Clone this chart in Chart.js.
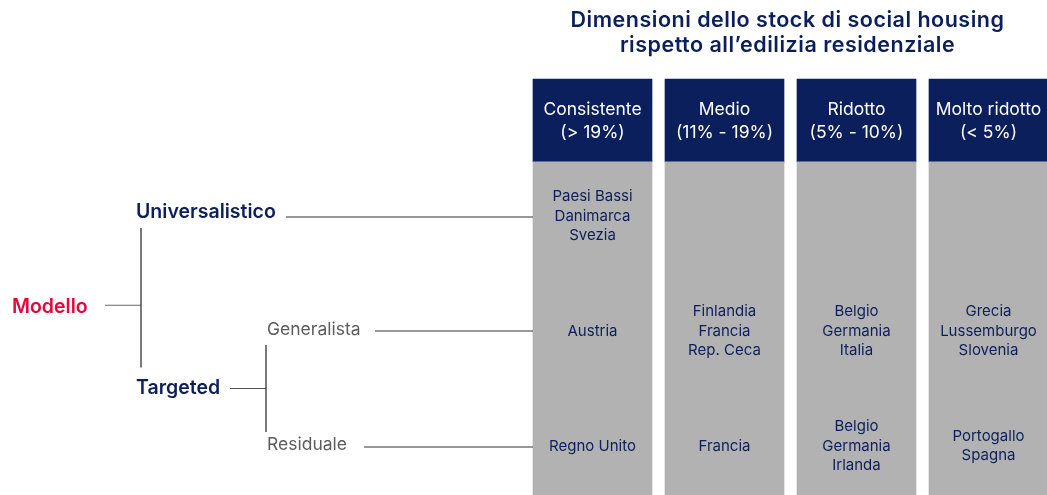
<!DOCTYPE html>
<html><head><meta charset="utf-8">
<script src="https://cdn.jsdelivr.net/npm/chart.js@4.4.1/dist/chart.umd.min.js"></script>
<style>html,body{margin:0;padding:0;background:#fff}#wrap{width:1047px;height:495px;position:relative}</style>
</head><body><div id="wrap"><canvas id="c"></canvas></div>
<script>
// ---- data ----
const titleLines = ['Dimensioni dello stock di social housing', 'rispetto all\u2019edilizia residenziale'];
const columnNames = ['Consistente', 'Medio', 'Ridotto', 'Molto ridotto'];
const columnRanges = ['(> 19%)', '(11% - 19%)', '(5% - 10%)', '(< 5%)'];
const rootLabel = 'Modello';
const modelLabels = ['Universalistico', 'Targeted'];
const targetedLabels = ['Generalista', 'Residuale'];
const universalistico = [['Paesi Bassi', 'Danimarca', 'Svezia'], [], [], []];
const generalista = [['Austria'], ['Finlandia', 'Francia', 'Rep. Ceca'], ['Belgio', 'Germania', 'Italia'], ['Grecia', 'Lussemburgo', 'Slovenia']];
const residuale = [['Regno Unito'], ['Francia'], ['Belgio', 'Germania', 'Irlanda'], ['Portogallo', 'Spagna']];
const headerBand = [-0.19, 0.53];
const bodyBand = [0.53, 3.43];

const rows = [universalistico, generalista, residuale];
const NAVY = '#0c1f5b', GRAY = '#b2b2b2', RED = '#e2073c', MID = '#5c5c5c';
const FONT = 'Inter, "Open Sans", sans-serif';

const overlay = {
  id: 'overlay',
  afterDatasetsDraw(chart) {
    const ctx = chart.ctx, xs = chart.scales.x, ys = chart.scales.y;
    ctx.save();
    ctx.textAlign = 'center'; ctx.textBaseline = 'middle';
    // title
    const tcx = (xs.getPixelForValue(0) + xs.getPixelForValue(3)) / 2 - 3;
    ctx.fillStyle = NAVY; ctx.font = '600 21.5px ' + FONT;
    if ('letterSpacing' in ctx) ctx.letterSpacing = '0.5px';
    ctx.fillText(titleLines[0], tcx, 21);
    ctx.fillText(titleLines[1], tcx, 46);
    if ('letterSpacing' in ctx) ctx.letterSpacing = '0px';
    // headers
    const hy = (ys.getPixelForValue(headerBand[0]) + ys.getPixelForValue(headerBand[1])) / 2;
    ctx.fillStyle = '#ffffff'; ctx.font = '400 17.5px ' + FONT;
    columnNames.forEach((n, i) => {
      const x = xs.getPixelForValue(i);
      ctx.fillText(n, x, hy - 11);
      ctx.fillText(columnRanges[i], x, hy + 12);
    });
    // cells
    ctx.fillStyle = NAVY; ctx.font = '400 15px ' + FONT;
    rows.forEach((row, r) => {
      const cy = ys.getPixelForValue(r + 1);
      row.forEach((list, i) => {
        const x = xs.getPixelForValue(i);
        const lh = 19.5;
        list.forEach((t, k) => ctx.fillText(t, x, cy + (k - (list.length - 1) / 2) * lh));
      });
    });
    // tree
    const edge = xs.getPixelForValue(0) - 59.5;
    const yU = ys.getPixelForValue(1), yG = ys.getPixelForValue(2), yR = ys.getPixelForValue(3);
    const yT = (yG + yR) / 2, yM = (yU + yT) / 2 + 3;
    ctx.textAlign = 'left';
    ctx.font = '600 19.5px ' + FONT; ctx.fillStyle = RED;
    ctx.fillText(rootLabel, 12, yM + 2);
    ctx.fillStyle = NAVY;
    ctx.fillText(modelLabels[0], 136, yU - 4);
    ctx.fillText(modelLabels[1], 136, yT);
    ctx.font = '400 17.5px ' + FONT; ctx.fillStyle = MID;
    ctx.fillText(targetedLabels[0], 267, yG - 1);
    ctx.fillText(targetedLabels[1], 267, yR - 1);
    const line = (x1, y1, x2, y2, c) => {
      ctx.strokeStyle = c; ctx.lineWidth = 1.2; ctx.beginPath();
      ctx.moveTo(x1, y1); ctx.lineTo(x2, y2); ctx.stroke();
    };
    line(105, yM, 141, yM, '#6a6a6a');
    line(141, yU + 12, 141, yT - 21, '#222');
    line(286, yU + 1, edge, yU + 1, '#333');
    line(230, yT, 266, yT, '#555');
    line(266, yG + 14, 266, yR - 14, '#222');
    line(375, yG, edge, yG, '#333');
    line(364, yR + 1, edge, yR + 1, '#333');
    ctx.restore();
  }
};

new Chart(document.getElementById('c'), {
  type: 'bar',
  data: {
    datasets: [
      { label: 'Corpo', data: columnNames.map((n, i) => ({ x: i, y: bodyBand })), backgroundColor: GRAY, grouped: false, barThickness: 119, borderWidth: 0 },
      { label: 'Intestazione', data: columnNames.map((n, i) => ({ x: i, y: headerBand })), backgroundColor: '#0b1f5c', grouped: false, barThickness: 119, borderWidth: 0 }
    ]
  },
  options: {
    responsive: true, maintainAspectRatio: false, animation: false,
    layout: { padding: 0 },
    plugins: { legend: { display: false }, tooltip: { enabled: false }, title: { display: false } },
    scales: {
      x: { type: 'linear', offset: false, min: -4.4886, max: 3.4432, display: false },
      y: { type: 'linear', reverse: true, min: -0.878, max: 3.426, display: false }
    }
  },
  plugins: [overlay]
});
</script></body></html>
